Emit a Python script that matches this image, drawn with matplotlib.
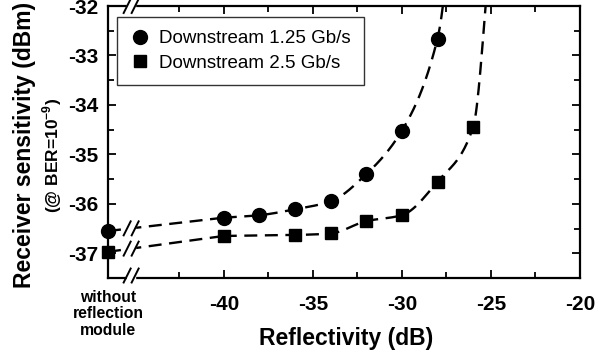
import numpy as np
import matplotlib
matplotlib.use("Agg")
import matplotlib.pyplot as plt
from matplotlib.lines import Line2D
from matplotlib.patches import Rectangle

plt.rcParams['font.family'] = ['Liberation Sans', 'DejaVu Sans']
plt.rcParams['mathtext.fontset'] = 'custom'
plt.rcParams['mathtext.rm'] = 'Liberation Sans'
plt.rcParams['mathtext.bf'] = 'Liberation Sans:bold'

# ---- data ----
circ_x = [-40, -38, -36, -34, -32, -30, -28]
circ_y = [-36.28, -36.23, -36.11, -35.95, -35.40, -34.52, -32.66]
sq_x = [-40, -36, -34, -32, -30, -28, -26]
sq_y = [-36.65, -36.63, -36.60, -36.35, -36.23, -35.55, -34.45]
no_refl_circ = -36.55
no_refl_sq = -36.97
# where the fitted guide curves leave the top of the plot
circ_end_x = -27.7
sq_end_x = -25.3
labels = ["Downstream 1.25 Gb/s", "Downstream 2.5 Gb/s"]
x_ticks = [-40, -35, -30, -25, -20]
y_ticks = [-37, -36, -35, -34, -33, -32]
X_LEFT = -46.5
X_BREAK = -45.2
Y_TOP = -32.0
Y_BOT = -37.45


def pchip(x, y, xs):
    x = np.asarray(x, float); y = np.asarray(y, float)
    h = np.diff(x); d = np.diff(y) / h
    n = len(x); m = np.zeros(n)
    for k in range(1, n - 1):
        if d[k - 1] * d[k] > 0:
            w1 = 2 * h[k] + h[k - 1]; w2 = h[k] + 2 * h[k - 1]
            m[k] = (w1 + w2) / (w1 / d[k - 1] + w2 / d[k])
    m[0] = d[0]; m[-1] = d[-1] * 1.3
    out = np.empty_like(xs)
    for i, xv in enumerate(xs):
        k = min(max(np.searchsorted(x, xv) - 1, 0), n - 2)
        t = (xv - x[k]) / h[k]
        h00 = 2*t**3 - 3*t**2 + 1; h10 = t**3 - 2*t**2 + t
        h01 = -2*t**3 + 3*t**2; h11 = t**3 - t**2
        out[i] = h00*y[k] + h10*h[k]*m[k] + h01*y[k+1] + h11*h[k]*m[k+1]
    return out


fig = plt.figure(figsize=(6.16, 3.56), dpi=100)
ax = fig.add_axes([108/616, 1 - 278/356, (580-108)/616, (278-6)/356])
ax.set_xlim(X_LEFT, -20)
ax.set_ylim(Y_BOT, Y_TOP)

dash = dict(color='black', lw=1.7, ls=(0, (5.5, 3.2)), clip_on=True)
for xs_d, ys_d, x0y, xend, mk, ms in [
        (circ_x, circ_y, no_refl_circ, circ_end_x, 'o', 10),
        (sq_x, sq_y, no_refl_sq, sq_end_x, 's', 9)]:
    px = list(xs_d) + [xend]
    py = list(ys_d) + [Y_TOP]
    xx = np.linspace(px[0], px[-1], 300)
    ax.plot(xx, pchip(px, py, xx), **dash)
    ax.plot([X_LEFT, xs_d[0]], [x0y, ys_d[0]], **dash)
    ax.plot(xs_d, ys_d, ls='none', marker=mk, ms=ms, color='black', zorder=5)
    ax.plot([X_LEFT], [x0y], ls='none', marker=mk, ms=ms, color='black',
            zorder=5, clip_on=False)

# ticks
ax.set_xticks(x_ticks)
ax.set_xticklabels([str(t) for t in x_ticks])
ax.set_xticks(np.arange(-42.5, -20, 5), minor=True)
ax.set_yticks(y_ticks)
ax.set_yticklabels([str(t) for t in y_ticks])
ax.set_yticks(np.arange(-37.5, -32, 1), minor=True)
ax.tick_params(which='both', direction='in', top=True, right=True, width=1.3)
ax.tick_params(which='major', length=6)
ax.tick_params(which='minor', length=4)
ax.tick_params(axis='x', pad=12)
ax.tick_params(axis='y', pad=7)
for lab in ax.get_xticklabels() + ax.get_yticklabels():
    lab.set_fontsize(15); lab.set_fontweight('bold')
for s in ax.spines.values():
    s.set_linewidth(1.6)

ax.set_xlabel("Reflectivity (dB)", fontsize=16.5, fontweight='bold')
ax.xaxis.set_label_coords((346-108)/472, -(338-278)/272)
ax.xaxis.label.set_va('center')

fig.text(25/616, 1 - 145/356, "Receiver sensitivity (dBm)", rotation=90,
         ha='center', va='center', fontsize=16.5, fontweight='bold')
fig.text(52/616, 1 - 155/356, "(@ BER=10$^{\\mathbf{-9}}$)", rotation=90,
         ha='center', va='center', fontsize=12.5, fontweight='bold')
fig.text(108/616, 1 - 314/356, "without\nreflection\nmodule", ha='center',
         va='center', fontsize=11.3, fontweight='bold', linespacing=1.1)

handles = [Line2D([], [], ls='none', marker='o', ms=10, color='black'),
           Line2D([], [], ls='none', marker='s', ms=9, color='black')]
leg = ax.legend(handles, labels, loc='upper left', bbox_to_anchor=(9/472, 1 - 11/272),
                frameon=True, fancybox=False, edgecolor='black', fontsize=13.5,
                handletextpad=0.45, borderpad=0.7, labelspacing=0.4,
                handlelength=1.1, borderaxespad=0)
leg.get_frame().set_linewidth(1.0)

# break marks
fig.canvas.draw()
inv = fig.transFigure.inverted()


def brk(xd, yd):
    px, py = ax.transData.transform((xd, yd))
    gap = 8
    p0 = inv.transform((px - gap/2, py - 3)); p1 = inv.transform((px + gap/2, py + 3))
    fig.add_artist(Rectangle(p0, p1[0]-p0[0], p1[1]-p0[1], color='white',
                             transform=fig.transFigure, zorder=10))
    for off in (-gap/2, gap/2):
        a = inv.transform((px + off - 3.5, py - 7)); b = inv.transform((px + off + 3.5, py + 7))
        fig.add_artist(Line2D([a[0], b[0]], [a[1], b[1]], color='black', lw=1.4,
                              transform=fig.transFigure, zorder=11))


for yv in [Y_BOT, Y_TOP]:
    brk(X_BREAK, yv)
for x0y, y1 in [(no_refl_circ, circ_y[0]), (no_refl_sq, sq_y[0])]:
    yb = x0y + (y1 - x0y) * (X_BREAK - X_LEFT) / (circ_x[0] - X_LEFT)
    brk(X_BREAK, yb)

fig.savefig("out.png", dpi=100)
